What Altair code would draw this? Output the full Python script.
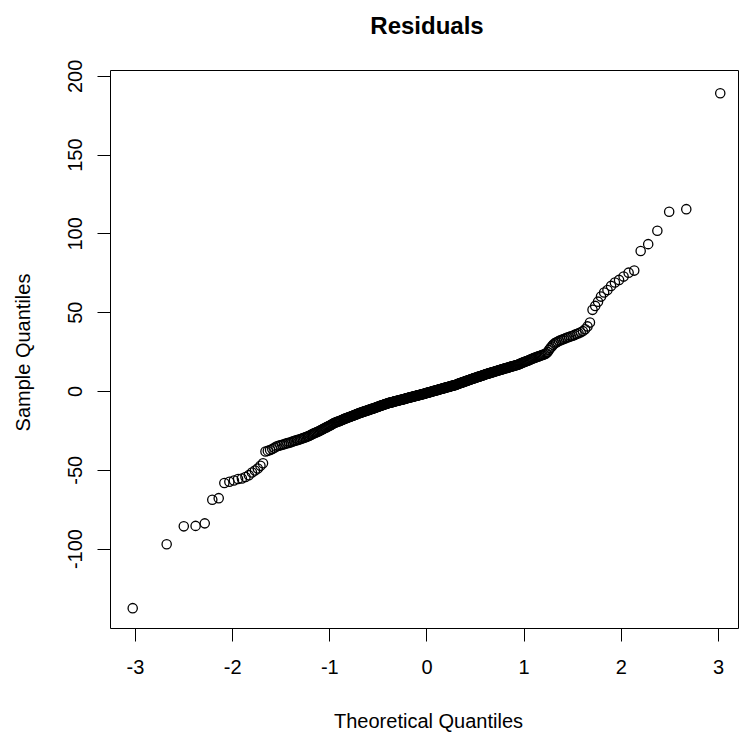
import altair as alt
import pandas as pd

# Sample quantiles (sorted residuals)
lower_tail = [-137.8, -97.3, -85.9, -85.6, -84.0, -69.0, -68.0, -58.4, -57.6, -56.8,
              -55.9, -55.5, -54.6, -53.4, -51.7, -50.4, -49.2, -47.5, -45.8]

band_low = [
    -38.4, -38.0, -37.4, -36.8, -36.0, -35.2, -34.8, -34.5, -34.1, -33.8, -33.4,
    -33.1, -32.8, -32.5, -32.1, -31.8, -31.5, -31.2, -30.9, -30.6, -30.3,
    -30.0, -29.7, -29.4, -29.1, -28.8, -28.4, -28.0, -27.6, -27.2, -26.8,
    -26.5, -26.2, -25.9, -25.5, -25.2, -24.8, -24.5, -24.1, -23.7, -23.4,
    -23.1, -22.7, -22.4, -22.0, -21.7, -21.4, -21.0, -20.7, -20.3, -20.0,
    -19.8, -19.6, -19.4, -19.2, -19.0, -18.7, -18.4, -18.2, -17.9, -17.7,
    -17.5, -17.3, -17.1, -16.9, -16.7, -16.5, -16.3, -16.1, -15.9, -15.7,
    -15.5, -15.3, -15.1, -14.9, -14.7, -14.5, -14.3, -14.1, -13.9, -13.8,
    -13.6, -13.4, -13.3, -13.1, -12.9, -12.8, -12.6, -12.5, -12.3, -12.2,
    -12.0, -11.8, -11.7, -11.5, -11.4, -11.2, -11.1, -10.9, -10.8, -10.6,
    -10.4, -10.3, -10.1, -10.0, -9.8, -9.6, -9.5, -9.3, -9.2, -9.0,
    -8.9, -8.7, -8.6, -8.4, -8.3, -8.2, -8.0, -7.9, -7.7, -7.6,
    -7.5, -7.4, -7.3, -7.2, -7.1, -7.0, -6.9, -6.7, -6.6, -6.5,
    -6.4, -6.3, -6.2, -6.1, -6.0, -5.9, -5.8, -5.7, -5.6, -5.5,
    -5.4, -5.3, -5.2, -5.1, -5.0, -4.9, -4.7, -4.6, -4.5, -4.4,
    -4.3, -4.2, -4.1, -4.0, -3.9, -3.8, -3.7, -3.6, -3.5, -3.4,
    -3.3, -3.2, -3.1, -3.0, -2.9, -2.8, -2.7, -2.6, -2.5, -2.4,
    -2.3, -2.2, -2.1, -2.0, -1.9, -1.8, -1.7, -1.6, -1.4, -1.3,
]

band_high = [
    -1.2, -1.1, -1.0, -0.9, -0.8, -0.7, -0.6, -0.5, -0.4, -0.2,
    -0.1, 0.0, 0.1, 0.2, 0.3, 0.4, 0.5, 0.6, 0.7, 0.9,
    1.0, 1.1, 1.2, 1.3, 1.4, 1.5, 1.6, 1.7, 1.8, 2.0,
    2.1, 2.2, 2.3, 2.4, 2.5, 2.6, 2.7, 2.8, 2.9, 3.1,
    3.2, 3.3, 3.4, 3.5, 3.6, 3.7, 3.8, 4.0, 4.1, 4.3,
    4.5, 4.6, 4.8, 4.9, 5.1, 5.2, 5.3, 5.5, 5.6, 5.8,
    5.9, 6.1, 6.2, 6.4, 6.5, 6.7, 6.8, 7.0, 7.1, 7.3,
    7.4, 7.6, 7.7, 7.9, 8.0, 8.2, 8.3, 8.5, 8.6, 8.8,
    8.9, 9.1, 9.2, 9.3, 9.5, 9.6, 9.8, 9.9, 10.1, 10.3,
    10.5, 10.6, 10.8, 10.9, 11.0, 11.2, 11.3, 11.5, 11.6, 11.8,
    11.9, 12.1, 12.2, 12.4, 12.5, 12.7, 12.8, 13.0, 13.1, 13.3,
    13.4, 13.6, 13.7, 13.9, 14.1, 14.2, 14.4, 14.5, 14.7, 14.8,
    15.0, 15.2, 15.3, 15.5, 15.7, 15.8, 16.0, 16.2, 16.3, 16.5,
    16.7, 16.9, 17.2, 17.4, 17.7, 18.0, 18.2, 18.5, 18.7, 19.0,
    19.2, 19.5, 19.8, 20.1, 20.4, 20.7, 21.0, 21.3, 21.5, 21.8,
    22.0, 22.3, 22.6, 22.9, 23.2, 23.5, 24.0, 24.8, 26.0, 27.2,
    28.3, 29.3, 30.2, 30.8, 31.3, 31.8, 32.2, 32.6, 33.0, 33.5,
    33.9, 34.3, 34.7, 35.1, 35.6, 36.2, 36.7, 37.3, 38.0, 39.2,
    41.0,
]

upper_tail = [43.4, 51.5, 54.0, 56.7, 59.9, 62.5, 64.1, 66.7, 68.8, 70.5,
              72.6, 75.1, 76.4, 88.8, 93.2, 101.7, 113.7, 115.4, 189.0]

x_ticks = [-3, -2, -1, 0, 1, 2, 3]
y_ticks = [-100, -50, 0, 50, 100, 150, 200]

df = pd.DataFrame({"sample": lower_tail + band_low + band_high + upper_tail})

FONT = "Liberation Sans"

chart = (
    alt.Chart(df)
    .transform_window(rank="row_number()", sort=[alt.SortField("sample", order="ascending")])
    .transform_joinaggregate(n="count()")
    .transform_calculate(theoretical="quantileNormal((datum.rank - 0.5) / datum.n)")
    .mark_point(shape="circle", filled=False, size=86, strokeWidth=1.3, color="black", opacity=1)
    .encode(
        x=alt.X(
            "theoretical:Q",
            scale=alt.Scale(domain=[-3.257, 3.206], nice=False, zero=False),
            axis=alt.Axis(
                values=x_ticks,
                title="Theoretical Quantiles",
                labelExpr="'' + datum.value",
                labelBaseline="alphabetic",
                labelPadding=32,
                titleBaseline="alphabetic",
                titleX=318,
                titleY=99,
                titleAlign="center",
            ),
        ),
        y=alt.Y(
            "sample:Q",
            scale=alt.Scale(domain=[-150.4, 203.7], nice=False, zero=False),
            axis=alt.Axis(
                values=y_ticks,
                title="Sample Quantiles",
                labelExpr="'' + datum.value",
                labelAngle=270,
                labelAlign="center",
                labelBaseline="alphabetic",
                labelPadding=16,
                titleAngle=270,
                titleBaseline="alphabetic",
                titleAlign="center",
                titleX=-81,
                titleY=282,
            ),
        ),
    )
    .properties(
        width=628,
        height=558,
        autosize="none",
        padding={"left": 110, "top": 70, "right": 1, "bottom": 110},
        title=alt.TitleParams(
            "Residuals",
            font=FONT,
            fontSize=24,
            fontWeight="bold",
            color="black",
            anchor="middle",
            baseline="alphabetic",
            offset=1,
            dx=3,
        ),
    )
    .configure_view(stroke="black", strokeWidth=1)
    .configure_axis(
        grid=False,
        domain=False,
        ticks=True,
        tickColor="black",
        tickSize=13,
        tickWidth=1,
        labelFont=FONT,
        labelFontSize=20,
        labelColor="black",
        titleFont=FONT,
        titleFontSize=20,
        titleFontWeight="normal",
        titleColor="black",
        labelOverlap=False,
        labelFlush=False,
    )
)

chart.save("out.html", embed_options={"renderer": "svg", "actions": False})
